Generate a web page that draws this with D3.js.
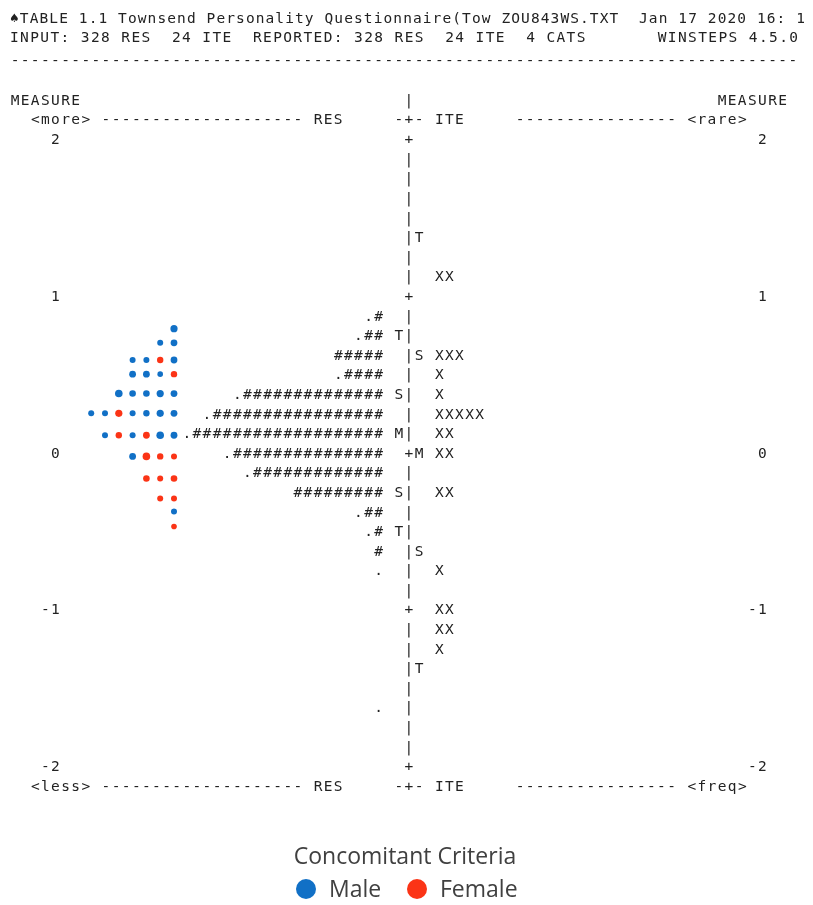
<!DOCTYPE html>
<html>
<head>
<meta charset="utf-8">
<script src="https://cdn.jsdelivr.net/npm/d3@7"></script>
<style>
  body { margin: 0; background: #fff; }
  svg { will-change: transform; }
  text.mono { font-family: "DejaVu Sans Mono", monospace; font-size: 14.5px; fill: #222; white-space: pre; }
</style>
</head>
<body>
<div id="container"></div>
<script>
const W = 813, H = 905;

// header text of the winsteps table
const headerLines = [
  "\u2660TABLE 1.1 Townsend Personality Questionnaire(Tow ZOU843WS.TXT  Jan 17 2020 16: 1",
  "INPUT: 328 RES  24 ITE  REPORTED: 328 RES  24 ITE  4 CATS       WINSTEPS 4.5.0"
];
const measureTicks = [2, 1, 0, -1, -2];

// persons (RES) : measure row, string
const personRows = [
  [0.875, ".#"], [0.75, ".##"], [0.625, "#####"], [0.5, ".####"],
  [0.375, ".##############"], [0.25, ".#################"],
  [0.125, ".###################"], [0, ".###############"],
  [-0.125, ".#############"], [-0.25, "#########"], [-0.375, ".##"],
  [-0.5, ".#"], [-0.625, "#"], [-0.75, "."], [-1.625, "."]
];
const personMarkers = [[0.75, "T"], [0.375, "S"], [0.125, "M"], [-0.25, "S"], [-0.5, "T"]];

// items (ITE)
const itemRows = [
  [1.125, "XX"], [0.625, "XXX"], [0.5, "X"], [0.375, "X"], [0.25, "XXXXX"],
  [0.125, "XX"], [0, "XX"], [-0.25, "XX"], [-0.75, "X"], [-1, "XX"],
  [-1.125, "XX"], [-1.25, "X"]
];
const itemMarkers = [[1.375, "T"], [0.625, "S"], [0, "M"], [-0.625, "S"], [-1.375, "T"]];

// concomitant criteria dots, each row listed from the right
const dotMeasures = [0.79, 0.70, 0.59, 0.50, 0.376, 0.25, 0.11, -0.025, -0.166, -0.293, -0.376, -0.472];
const dotGenders = [
  ["Male"],
  ["Male", "Male"],
  ["Male", "Female", "Male", "Male"],
  ["Female", "Male", "Male", "Male"],
  ["Male", "Male", "Male", "Male", "Male"],
  ["Male", "Male", "Male", "Male", "Female", "Male", "Male"],
  ["Male", "Male", "Female", "Male", "Female", "Male"],
  ["Female", "Female", "Female", "Male"],
  ["Female", "Female", "Female"],
  ["Female", "Female"],
  ["Male"],
  ["Female"]
];
const dotSizes = [
  [3.6],
  [3.4, 3.0],
  [3.4, 3.2, 3.0, 3.0],
  [3.2, 2.8, 3.4, 3.4],
  [3.4, 3.6, 3.3, 3.3, 3.8],
  [3.4, 3.6, 3.2, 3.0, 3.6, 3.0, 3.0],
  [3.4, 3.8, 3.4, 3.0, 3.2, 3.0],
  [3.0, 3.2, 3.8, 3.4],
  [3.3, 3.0, 3.3],
  [3.0, 3.0],
  [3.0],
  [2.8]
];
const legendTitle = "Concomitant Criteria";
const genders = ["Male", "Female"];
const genderColors = ["#1170c6", "#fb3416"];

const fs = 14.5, pitch = 10.1, adv = fs * 0.602, ls = pitch - adv;
const col = d3.scaleLinear().domain([0, 79]).range([10, 10 + 79 * pitch]);
const y = d3.scaleLinear().domain([2, -2]).range([139, 766]);
const gx = d3.scaleLinear().domain([0, 6]).range([174, 91.2]);
const color = d3.scaleOrdinal().domain(genders).range(genderColors);

const svg = d3.select("#container").append("svg").attr("width", W).attr("height", H);
const table = svg.append("g").style("opacity", 0.999);

// place a token starting at column c, row center yy
const tok = (c, yy, s) => table.append("text").attr("class", "mono")
    .attr("x", col(c) + ls / 2).attr("y", yy).attr("dy", "0.36em")
    .style("letter-spacing", ls + "px").text(s);

// header
table.append("text").attr("class", "mono").attr("x", 10).attr("y", 18).attr("dy", "0.36em")
  .attr("textLength", 795).attr("lengthAdjust", "spacing").text(headerLines[0]);
table.append("text").attr("class", "mono").attr("x", 10).attr("y", 37).attr("dy", "0.36em")
  .attr("textLength", 788).attr("lengthAdjust", "spacing").text(headerLines[1]);
tok(0, 60, "-".repeat(78));

const dashes = n => "-".repeat(n);
tok(0, 100, "MEASURE"); tok(39, 100, "|"); tok(70, 100, "MEASURE");
[[119, "<more>", "<rare>"], [786, "<less>", "<freq>"]].forEach(([yy, a, b]) => {
  tok(2, yy, a); tok(9, yy, dashes(20)); tok(30, yy, "RES");
  tok(38, yy, "-+-"); tok(42, yy, "ITE"); tok(50, yy, dashes(16)); tok(67, yy, b);
});

// the central column
d3.range(2, -2.0001, -0.125).forEach(m => {
  const isInt = Math.abs(m - Math.round(m)) < 1e-6;
  tok(39, y(m), isInt ? "+" : "|");
});
measureTicks.forEach(m => {
  const s = String(m);
  tok(5 - s.length, y(m), s);
  tok(75 - s.length, y(m), s);
});
personRows.forEach(([m, s]) => tok(37 - s.length, y(m), s));
personMarkers.forEach(([m, s]) => tok(38, y(m), s));
itemMarkers.forEach(([m, s]) => tok(40, y(m), s));
itemRows.forEach(([m, s]) => tok(42, y(m), s));

// dot overlay
const dots = [];
dotMeasures.forEach((m, i) => dotGenders[i].forEach((g, k) =>
  dots.push({ m: m, k: k, g: g, r: dotSizes[i][k] })));
svg.append("g").selectAll("circle").data(dots).enter().append("circle")
  .attr("cx", d => gx(d.k)).attr("cy", d => y(d.m))
  .attr("r", d => d.r).style("fill", d => color(d.g));

// legend
const legendFont = "'Open Sans', sans-serif";
svg.append("text").attr("x", 405).attr("y", 856).attr("dy", "0.35em")
  .attr("text-anchor", "middle")
  .style("font-family", legendFont).style("font-size", "23px").style("fill", "#404040")
  .text(legendTitle);
const lx = [306, 417];
const lg = svg.append("g").selectAll("g").data(genders).enter().append("g")
  .attr("transform", (d, i) => `translate(${lx[i]},889)`);
lg.append("circle").attr("r", 10).style("fill", d => color(d));
lg.append("text").attr("x", 23).attr("dy", "0.35em")
  .style("font-family", legendFont).style("font-size", "23px").style("fill", "#404040")
  .text(d => d);
</script>
</body>
</html>
